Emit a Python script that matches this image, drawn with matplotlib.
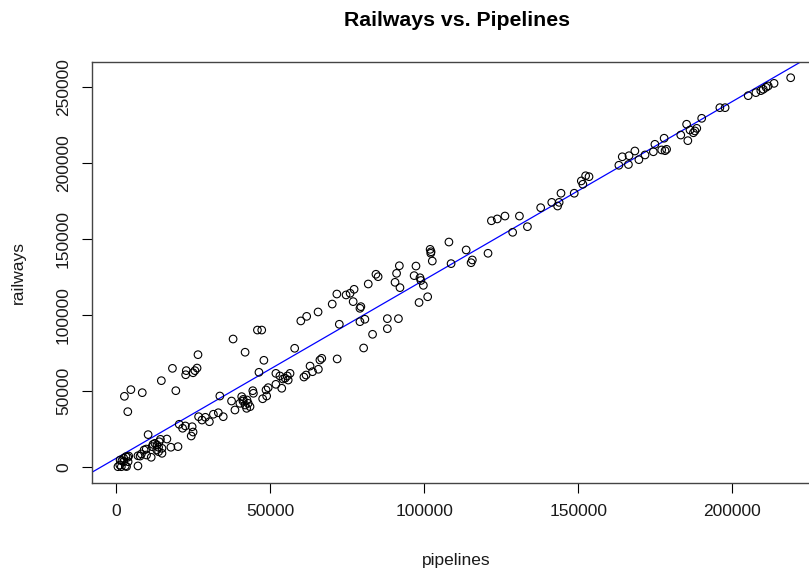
import numpy as np
import matplotlib
matplotlib.use("Agg")
import matplotlib.pyplot as plt

pipelines = [
    26500, 18200, 22700, 22500, 24900, 25500, 26200, 14600, 4700, 2600, 8400, 19300, 3700,
    10300, 20400, 21500, 22400, 24600, 24900, 24300, 26700, 27800, 28900, 30200, 14300, 16400,
    11900, 13200, 11600, 13700, 14800, 17700, 20000, 9700, 14800, 11300, 8100, 7000, 7000, 13700,
    7700, 9000, 9800, 12500, 13100, 13900,
    1100, 1800, 2400, 3100, 4000, 2900, 1600, 2400, 3800, 500, 1200, 3700, 3300,
    37900, 45800, 47200, 41800, 47900, 46300, 57900, 59900, 61800, 65500,
    33600, 37400, 38500, 40700, 41200, 40100, 41800, 42800, 43400, 42300, 41100, 42400, 44300, 44500,
    47500, 48800, 49300, 48600, 51800, 53100, 51800, 53700, 54800, 55500, 56400, 55800, 54100,
    31500, 33100, 34700,
    60900, 61600, 62900, 63700, 65600, 66100, 66700, 71700,
    91900, 97300, 84300, 85000, 91000, 96700, 81800, 90500, 92100, 71600, 74600, 75900, 77200,
    76900, 70100, 79400, 79100, 80700, 79100, 72400, 88000, 91600, 88000, 83200, 98300, 98600,
    98900, 80300,
    121800, 123700, 126200, 130900, 133500, 128700, 108000, 101900, 102200, 102100, 102600,
    113600, 120700, 115600, 115200, 108700, 99700, 101100,
    164300, 166500, 168400, 163200, 166300, 169700, 152400, 153500, 151000, 151500, 148700,
    144400, 141400, 143800, 143300, 137800,
    219000, 213600, 205200, 207700, 209300, 210100, 211000, 211700, 196000, 197700, 190100,
    185200, 186300, 187900, 188500, 183300, 185600, 187400, 177900, 174900, 171700, 174400,
    177100, 178200, 178700,
]
railways = [
    73900, 64900, 63400, 60700, 62000, 63400, 65100, 56800, 50900, 46500, 48900, 50200, 36400,
    21300, 28100, 25500, 27000, 26500, 23000, 20400, 33100, 30900, 32700, 29800, 18200, 18400,
    14900, 14500, 13400, 13000, 12300, 13000, 13400, 11800, 9000, 6400, 8600, 7400, 700, 10100,
    7200, 11200, 7900, 15600, 11200, 16600,
    1300, 4100, 5700, 6800, 7200, 700, 200, 3500, 3500, 200, 4600, 6400, 300,
    84200, 90100, 90100, 75500, 70200, 62300, 78100, 96100, 99100, 102000,
    46700, 43400, 37500, 46300, 44500, 41900, 40800, 41900, 39700, 38600, 43400, 44100, 50200, 48500,
    44900, 46700, 52200, 50700, 61600, 59900, 54400, 51800, 58400, 59900, 61600, 57200, 57900,
    34700, 35700, 33100,
    59200, 60500, 66400, 62700, 64300, 70400, 71500, 71100,
    132400, 132200, 126800, 125200, 127400, 125900, 120400, 121500, 118000, 113800, 113200,
    114300, 116900, 108800, 107200, 105500, 104400, 97200, 95600, 93900, 97600, 97600, 91000,
    87300, 108200, 124500, 122700, 78300,
    162000, 163200, 165100, 165100, 158100, 154400, 148000, 143200, 141600, 140600, 135500,
    142800, 140600, 136200, 134400, 133800, 119500, 112000,
    204100, 204800, 207900, 198500, 199000, 202200, 191600, 191000, 188200, 186000, 180100,
    180100, 174100, 174100, 171700, 170600,
    256100, 252400, 244300, 246300, 247600, 248500, 249800, 250700, 236400, 236400, 229400,
    225500, 221700, 221100, 222800, 218400, 214700, 219900, 216300, 212300, 205300, 207400,
    208600, 208100, 209000,
]

title = "Railways vs. Pipelines"
xlabel = "pipelines"
ylabel = "railways"
xticks = [0, 50000, 100000, 150000, 200000]
yticks = [0, 50000, 100000, 150000, 200000, 250000]

plt.rcParams['font.family'] = ['Liberation Sans', 'DejaVu Sans']

x = np.array(pipelines, dtype=float)
y = np.array(railways, dtype=float)

W, H = 809, 571
fig = plt.figure(figsize=(W / 100, H / 100), dpi=100)
L, R, T, B = 92, 821, 62, 483
ax = fig.add_axes([L / W, (H - B) / H, (R - L) / W, (B - T) / H])

ax.scatter(x, y, s=30, facecolors='none', edgecolors='black', linewidths=0.8, zorder=3)

slope, intercept = np.polyfit(x, y, 1)
ax.axline((0, intercept), slope=slope, color='#0000FF', lw=0.9, zorder=2)

ax.set_xlim(-7925, 228850)
ax.set_ylim(-10526, 266447)
ax.set_xticks(xticks)
ax.set_yticks(yticks)
ax.set_xticklabels([str(v) for v in xticks])
ax.set_yticklabels([str(v) for v in yticks], rotation=90, va='center')
ax.tick_params(axis='both', length=7.2, width=0.8, color='black', labelsize=12.5,
               labelcolor='#1a1a1a', pad=8)
for s in ax.spines.values():
    s.set_color('#444444')
    s.set_linewidth(1.0)

fig.text(456.5 / W, 1 - 20 / H, title, ha='center', va='center', fontsize=15.3,
         fontweight='bold', color='black')
fig.text(456.5 / W, 1 - 560 / H, xlabel, ha='center', va='center', fontsize=12.5, color='#1a1a1a')
fig.text(18 / W, 1 - 272 / H, ylabel, ha='center', va='center', rotation=90, fontsize=12.5,
         color='#1a1a1a')

fig.savefig('out.png', dpi=100)
